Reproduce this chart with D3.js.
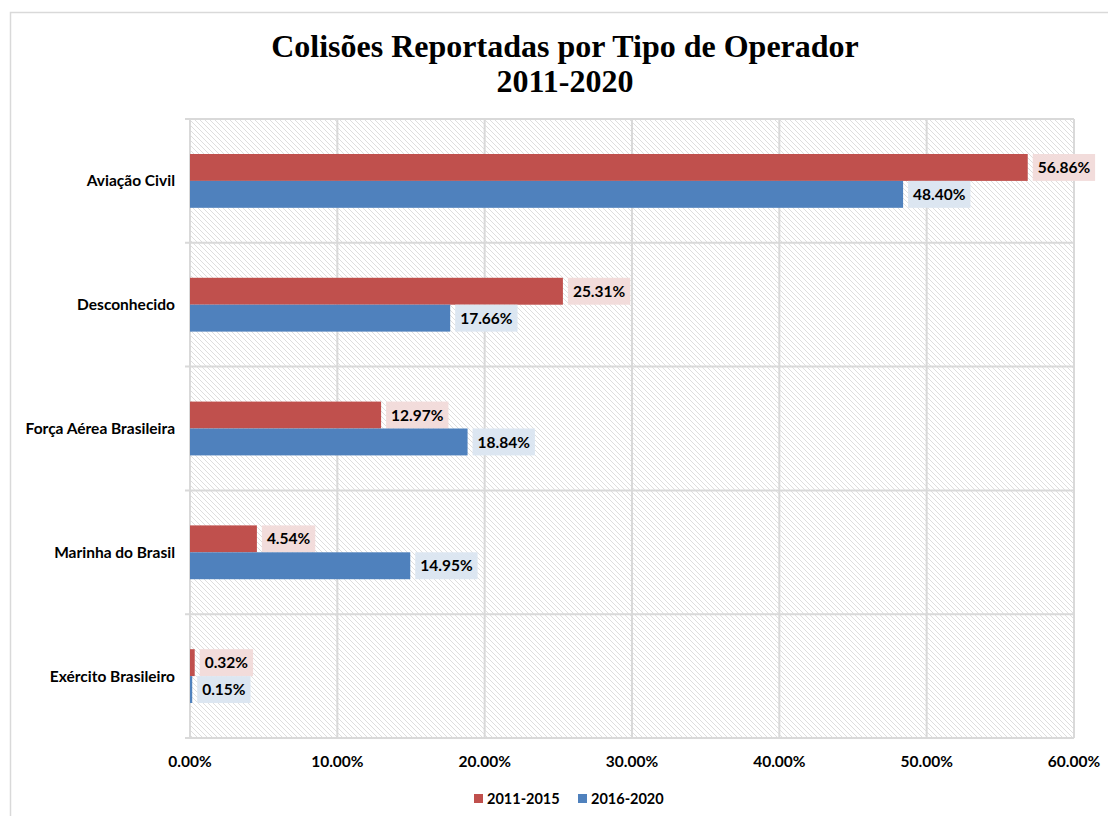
<!DOCTYPE html>
<html><head><meta charset="utf-8">
<script src="https://cdn.jsdelivr.net/npm/d3@7"></script>
<style>body{margin:0;background:#fff}svg{display:block}</style>
</head><body>
<svg id="c" width="1108" height="816"></svg>
<script>
const categories = ["Aviação Civil","Desconhecido","Força Aérea Brasileira","Marinha do Brasil","Exército Brasileiro"];
const seriesNames = ["2011-2015","2016-2020"];
const values2011_2015 = [56.86,25.31,12.97,4.54,0.32];
const values2016_2020 = [48.40,17.66,18.84,14.95,0.15];
const xTicks = [0,10,20,30,40,50,60];
const colors = ["#c0504d","#4f81bd"];
const labelBg = ["#f2dcdb","#dce6f1"];

const FONT = "Lato, sans-serif";
const FS = "15.5px";
const svg = d3.select("#c");
const M = {left:190, top:119, right:1074, bottom:738};
const x = d3.scaleLinear().domain([0,60]).range([M.left,M.right]);
const y = d3.scaleBand().domain(categories).range([M.top,M.bottom]).paddingInner(0).paddingOuter(0);
const inner = d3.scaleBand().domain(seriesNames).range([0,y.bandwidth()]).paddingOuter(1.3).paddingInner(0);

// outer border
svg.append("rect").attr("x",10.5).attr("y",12.5).attr("width",1110).attr("height",820)
  .attr("fill","#fff").attr("stroke","#d9d9d9").attr("stroke-width",1.5);

// hatch pattern
const defs = svg.append("defs");
const pat = defs.append("pattern").attr("id","hatch").attr("patternUnits","userSpaceOnUse")
  .attr("width",5).attr("height",5);
pat.append("rect").attr("width",5).attr("height",5).attr("fill","#fff");
pat.append("path").attr("d","M-1,-1 L6,6 M-1,4 L1,6 M4,-1 L6,1").attr("stroke","#dedede").attr("stroke-width",1);

svg.append("rect").attr("x",M.left).attr("y",M.top).attr("width",M.right-M.left).attr("height",M.bottom-M.top)
  .attr("fill","url(#hatch)");

// vertical gridlines
svg.append("g").selectAll("line").data(xTicks).join("line")
  .attr("x1",d=>x(d)).attr("x2",d=>x(d)).attr("y1",M.top).attr("y2",M.bottom)
  .attr("stroke","#d9d9d9").attr("stroke-width",2);
// horizontal gridlines at category boundaries
const bounds = categories.map(c=>y(c)).concat([M.bottom]);
svg.append("g").selectAll("line").data(bounds).join("line")
  .attr("x1",M.left-5).attr("x2",M.right).attr("y1",d=>d).attr("y2",d=>d)
  .attr("stroke","#d9d9d9").attr("stroke-width",2);

// bars
const series = [values2011_2015, values2016_2020];
series.forEach((vals,si)=>{
  const g = svg.append("g");
  g.selectAll("rect").data(vals).join("rect")
    .attr("x",x(0)).attr("y",(d,i)=>y(categories[i])+inner(seriesNames[si]))
    .attr("width",d=>x(d)-x(0)).attr("height",inner.bandwidth()).attr("fill",colors[si]);
  const lg = svg.append("g");
  vals.forEach((d,i)=>{
    const yy = y(categories[i])+inner(seriesNames[si]);
    const txt = lg.append("text").attr("x",x(d)+10).attr("y",yy+inner.bandwidth()/2)
      .attr("dy","0.36em").attr("font-family",FONT).attr("font-weight","bold")
      .attr("font-size",FS).attr("fill","#000").text(d.toFixed(2)+"%");
    const w = txt.node().getComputedTextLength();
    lg.insert("rect","text").attr("x",x(d)+5).attr("y",yy).attr("width",w+10).attr("height",inner.bandwidth())
      .attr("fill",labelBg[si]);
  });
});

// category labels
svg.append("g").selectAll("text").data(categories).join("text")
  .attr("x",175).attr("y",d=>y(d)+y.bandwidth()/2).attr("dy","0.36em").attr("text-anchor","end")
  .attr("font-family",FONT).attr("font-weight","bold").attr("font-size",FS).text(d=>d);

// x tick labels
svg.append("g").selectAll("text").data(xTicks).join("text")
  .attr("x",d=>x(d)).attr("y",761).attr("dy","0.36em").attr("text-anchor","middle")
  .attr("font-family",FONT).attr("font-weight","bold").attr("font-size",FS)
  .text(d=>d.toFixed(2)+"%");

// title
const title = svg.append("text").attr("x",565).attr("text-anchor","middle")
  .attr("font-family","'Liberation Serif', serif").attr("font-weight","bold").attr("font-size","32px").attr("fill","#000");
title.append("tspan").attr("x",565).attr("y",57).text("Colisões Reportadas por Tipo de Operador");
title.append("tspan").attr("x",565).attr("y",92).text("2011-2020");

// legend
const legend = svg.append("g");
const legX = [474,578];
seriesNames.forEach((s,i)=>{
  legend.append("rect").attr("x",legX[i]).attr("y",794).attr("width",9).attr("height",9).attr("fill",colors[i]);
  legend.append("text").attr("x",legX[i]+13).attr("y",798.5).attr("dy","0.36em")
    .attr("font-family",FONT).attr("font-weight","bold").attr("font-size","14.5px").text(s);
});
</script>
</body></html>
